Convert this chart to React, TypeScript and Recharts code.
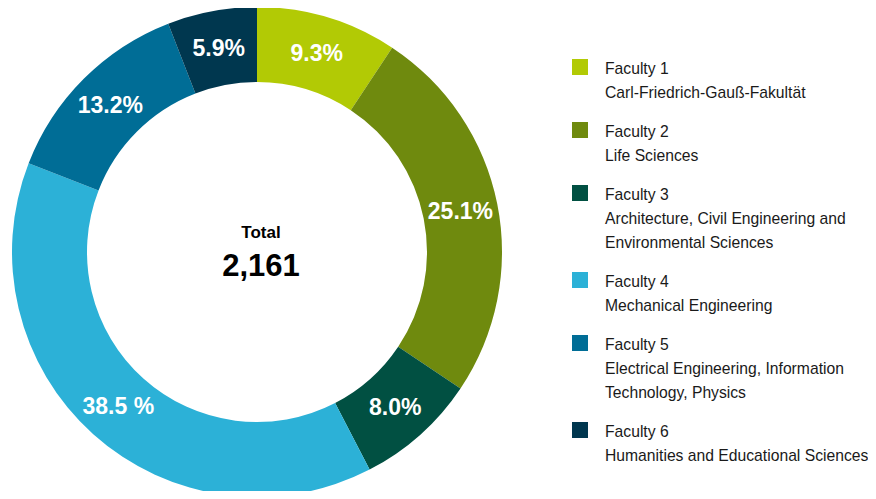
import { PieChart, Pie, Cell, Legend } from "recharts";

const faculties = ["Faculty 1", "Faculty 2", "Faculty 3", "Faculty 4", "Faculty 5", "Faculty 6"];
const subtitles = [
  ["Carl-Friedrich-Gauß-Fakultät"],
  ["Life Sciences"],
  ["Architecture, Civil Engineering and", "Environmental Sciences"],
  ["Mechanical Engineering"],
  ["Electrical Engineering, Information", "Technology, Physics"],
  ["Humanities and Educational Sciences"],
];
const shares = [9.3, 25.1, 8.0, 38.5, 13.2, 5.9];
const shareLabels = ["9.3%", "25.1%", "8.0%", "38.5 %", "13.2%", "5.9%"];
const colors = ["#b2ca05", "#6f8a0e", "#015042", "#2cb1d7", "#006d96", "#00374f"];
const totalLabel = "Total";
const totalValue = "2,161";

const FONT = '"Liberation Sans", Arial, Helvetica, sans-serif';
const RADIAN = Math.PI / 180;
const CX = 257;
const CY = 252;

const data = faculties.map((name, i) => ({ name, value: shares[i], label: shareLabels[i] }));

function SliceLabel(props: any) {
  const { cx, cy, midAngle, innerRadius, outerRadius, index } = props;
  const r = (innerRadius + outerRadius) / 2;
  const x = cx + r * Math.cos(-midAngle * RADIAN);
  const y = cy + r * Math.sin(-midAngle * RADIAN);
  return (
    <text
      x={x}
      y={y}
      fill="#ffffff"
      textAnchor="middle"
      dominantBaseline="central"
      fontFamily={FONT}
      fontWeight={700}
      fontSize={23}
    >
      {shareLabels[index]}
    </text>
  );
}

function FacultyLegend() {
  return (
    <div style={{ fontFamily: FONT, fontSize: 15.7, lineHeight: "24px", color: "#1a1a1a" }}>
      {faculties.map((name, i) => (
        <div key={name} style={{ position: "relative", paddingLeft: 33, marginBottom: 15 }}>
          <div
            style={{
              position: "absolute",
              left: 0,
              top: 2,
              width: 16,
              height: 16,
              background: colors[i],
            }}
          />
          <div>{name}</div>
          {subtitles[i].map((line) => (
            <div key={line} style={{ whiteSpace: "nowrap" }}>
              {line}
            </div>
          ))}
        </div>
      ))}
    </div>
  );
}

export default function App() {
  return (
    <div style={{ margin: -8, width: 876, height: 499, background: "#fff", position: "relative" }}>
      <PieChart width={876} height={499} margin={{ top: 0, right: 0, bottom: 0, left: 0 }}>
        <Pie
          data={data}
          dataKey="value"
          nameKey="name"
          cx={CX}
          cy={CY}
          innerRadius={170}
          outerRadius={245}
          startAngle={90}
          endAngle={-270}
          stroke="none"
          label={SliceLabel}
          labelLine={false}
          isAnimationActive={false}
        >
          {data.map((d, i) => (
            <Cell key={d.name} fill={colors[i]} />
          ))}
        </Pie>
        <text
          x={CX + 4}
          y={CY - 14}
          textAnchor="middle"
          fontFamily={FONT}
          fontWeight={700}
          fontSize={17}
          fill="#000"
        >
          {totalLabel}
        </text>
        <text
          x={CX + 4}
          y={CY + 24}
          textAnchor="middle"
          fontFamily={FONT}
          fontWeight={700}
          fontSize={31}
          fill="#000"
        >
          {totalValue}
        </text>
        <Legend
          layout="vertical"
          align="right"
          verticalAlign="middle"
          content={FacultyLegend}
          wrapperStyle={{ left: 572, top: 57, width: 300, right: "auto", bottom: "auto" }}
        />
      </PieChart>
    </div>
  );
}
